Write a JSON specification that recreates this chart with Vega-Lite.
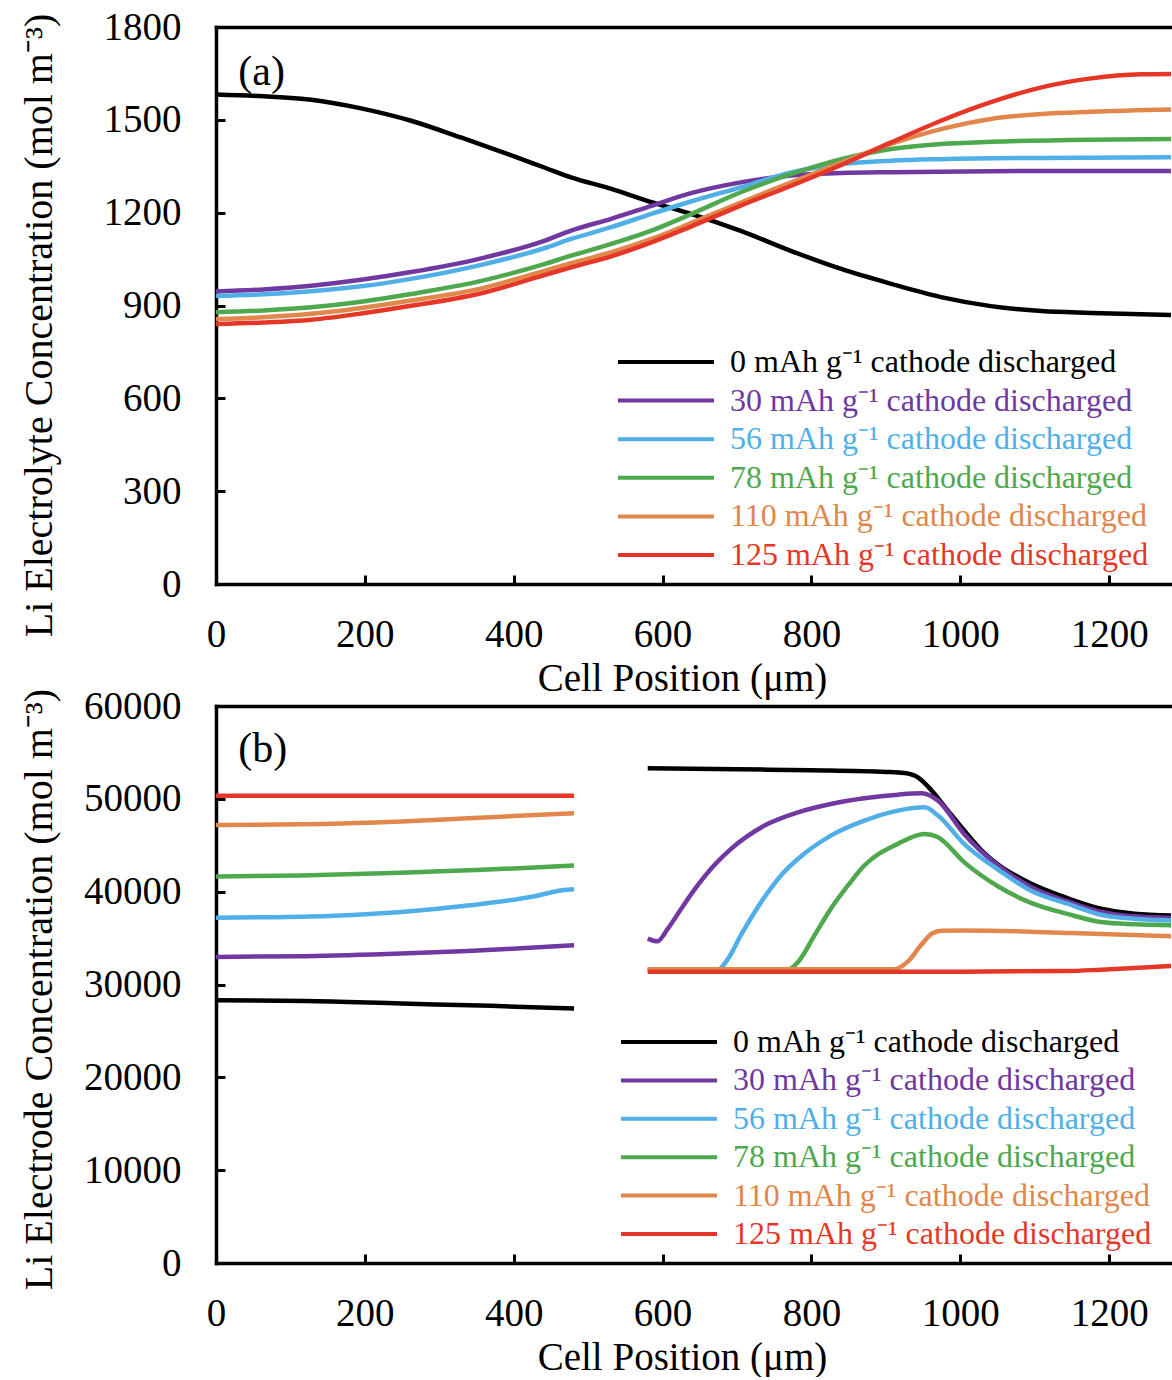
{
  "$schema": "https://vega.github.io/schema/vega-lite/v6.json",
  "background": "white",
  "padding": {"left": 18, "top": 8, "right": 0, "bottom": 0},
  "spacing": 122,
  "bounds": "flush",
  "config": {
    "font": "Liberation Serif",
    "view": {"stroke": null},
    "axis": {
      "grid": false, "domainColor": "black", "domainWidth": 3.5, "domainCap": "square",
      "tickColor": "black", "tickWidth": 3, "tickSize": -9,
      "labelFont": "Liberation Serif", "labelFontSize": 39, "labelColor": "black",
      "titleFont": "Liberation Serif", "titleFontWeight": "normal", "titleColor": "black",
      "labelFlush": false, "labelOverlap": false
    },
    "legend": {
      "orient": "none", "title": null,
      "symbolType": "stroke", "symbolSize": 9216, "symbolStrokeWidth": 4,
      "labelFont": "Liberation Serif", "labelFontSize": 32, "labelOffset": 14,
      "clipHeight": 30, "rowPadding": 6.6, "labelLimit": 700, "padding": 0
    }
  },
  "datasets": {
    "a": [
      {"s":"0","x":0,"y":1582},{"s":"0","x":64,"y":1576},{"s":"0","x":128,"y":1565},{"s":"0","x":195,"y":1537},{"s":"0","x":262,"y":1497},{"s":"0","x":329,"y":1443},{"s":"0","x":396,"y":1386},{"s":"0","x":441,"y":1346},{"s":"0","x":477,"y":1314},{"s":"0","x":531,"y":1277},{"s":"0","x":585,"y":1234},{"s":"0","x":638,"y":1196},{"s":"0","x":705,"y":1141},{"s":"0","x":773,"y":1076},{"s":"0","x":840,"y":1018},{"s":"0","x":907,"y":970},{"s":"0","x":974,"y":927},{"s":"0","x":1041,"y":898},{"s":"0","x":1109,"y":882},{"s":"0","x":1176,"y":876},{"s":"0","x":1283,"y":869},
      {"s":"30","x":0,"y":945},{"s":"30","x":64,"y":952},{"s":"30","x":128,"y":964},{"s":"30","x":195,"y":983},{"s":"30","x":262,"y":1008},{"s":"30","x":352,"y":1050},{"s":"30","x":441,"y":1109},{"s":"30","x":477,"y":1142},{"s":"30","x":531,"y":1180},{"s":"30","x":585,"y":1222},{"s":"30","x":638,"y":1263},{"s":"30","x":705,"y":1298},{"s":"30","x":773,"y":1320},{"s":"30","x":840,"y":1328},{"s":"30","x":907,"y":1331},{"s":"30","x":1041,"y":1334},{"s":"30","x":1176,"y":1335},{"s":"30","x":1283,"y":1335},
      {"s":"56","x":0,"y":931},{"s":"56","x":64,"y":936},{"s":"56","x":128,"y":946},{"s":"56","x":195,"y":962},{"s":"56","x":262,"y":986},{"s":"56","x":352,"y":1029},{"s":"56","x":441,"y":1085},{"s":"56","x":477,"y":1115},{"s":"56","x":531,"y":1153},{"s":"56","x":585,"y":1196},{"s":"56","x":638,"y":1236},{"s":"56","x":705,"y":1282},{"s":"56","x":773,"y":1330},{"s":"56","x":840,"y":1357},{"s":"56","x":907,"y":1368},{"s":"56","x":974,"y":1373},{"s":"56","x":1109,"y":1377},{"s":"56","x":1283,"y":1379},
      {"s":"78","x":0,"y":878},{"s":"78","x":64,"y":884},{"s":"78","x":128,"y":894},{"s":"78","x":195,"y":912},{"s":"78","x":262,"y":937},{"s":"78","x":352,"y":977},{"s":"78","x":441,"y":1034},{"s":"78","x":477,"y":1061},{"s":"78","x":531,"y":1099},{"s":"78","x":585,"y":1142},{"s":"78","x":638,"y":1195},{"s":"78","x":705,"y":1266},{"s":"78","x":773,"y":1325},{"s":"78","x":840,"y":1373},{"s":"78","x":907,"y":1406},{"s":"78","x":974,"y":1422},{"s":"78","x":1041,"y":1429},{"s":"78","x":1176,"y":1436},{"s":"78","x":1283,"y":1438},
      {"s":"110","x":0,"y":856},{"s":"110","x":64,"y":862},{"s":"110","x":128,"y":873},{"s":"110","x":195,"y":892},{"s":"110","x":262,"y":916},{"s":"110","x":352,"y":953},{"s":"110","x":441,"y":1012},{"s":"110","x":477,"y":1037},{"s":"110","x":531,"y":1072},{"s":"110","x":585,"y":1115},{"s":"110","x":638,"y":1166},{"s":"110","x":705,"y":1233},{"s":"110","x":773,"y":1298},{"s":"110","x":840,"y":1362},{"s":"110","x":907,"y":1422},{"s":"110","x":974,"y":1470},{"s":"110","x":1041,"y":1503},{"s":"110","x":1109,"y":1519},{"s":"110","x":1176,"y":1526},{"s":"110","x":1283,"y":1533},
      {"s":"125","x":0,"y":840},{"s":"125","x":64,"y":845},{"s":"125","x":128,"y":854},{"s":"125","x":195,"y":874},{"s":"125","x":262,"y":899},{"s":"125","x":352,"y":937},{"s":"125","x":441,"y":998},{"s":"125","x":477,"y":1023},{"s":"125","x":531,"y":1059},{"s":"125","x":585,"y":1104},{"s":"125","x":638,"y":1155},{"s":"125","x":705,"y":1223},{"s":"125","x":773,"y":1287},{"s":"125","x":840,"y":1354},{"s":"125","x":907,"y":1427},{"s":"125","x":974,"y":1497},{"s":"125","x":1041,"y":1557},{"s":"125","x":1109,"y":1605},{"s":"125","x":1176,"y":1634},{"s":"125","x":1243,"y":1647},{"s":"125","x":1283,"y":1648}
    ],
    "b": [
      {"s":"0","g":"L","x":0,"y":28300},{"s":"0","g":"L","x":120,"y":28230},{"s":"0","g":"L","x":249,"y":27950},{"s":"0","g":"L","x":370,"y":27700},{"s":"0","g":"L","x":481,"y":27410},
      {"s":"30","g":"L","x":0,"y":32970},{"s":"30","g":"L","x":120,"y":33050},{"s":"30","g":"L","x":249,"y":33330},{"s":"30","g":"L","x":338,"y":33600},{"s":"30","g":"L","x":384,"y":33790},{"s":"30","g":"L","x":481,"y":34220},
      {"s":"56","g":"L","x":0,"y":37200},{"s":"56","g":"L","x":80,"y":37250},{"s":"56","g":"L","x":159,"y":37400},{"s":"56","g":"L","x":249,"y":37800},{"s":"56","g":"L","x":338,"y":38500},{"s":"56","g":"L","x":428,"y":39500},{"s":"56","g":"L","x":465,"y":40150},{"s":"56","g":"L","x":481,"y":40250},
      {"s":"78","g":"L","x":0,"y":41640},{"s":"78","g":"L","x":114,"y":41750},{"s":"78","g":"L","x":249,"y":42030},{"s":"78","g":"L","x":338,"y":42300},{"s":"78","g":"L","x":428,"y":42600},{"s":"78","g":"L","x":481,"y":42820},
      {"s":"110","g":"L","x":0,"y":47190},{"s":"110","g":"L","x":114,"y":47250},{"s":"110","g":"L","x":249,"y":47550},{"s":"110","g":"L","x":338,"y":47900},{"s":"110","g":"L","x":428,"y":48250},{"s":"110","g":"L","x":481,"y":48450},
      {"s":"125","g":"L","x":0,"y":50340},{"s":"125","g":"L","x":240,"y":50340},{"s":"125","g":"L","x":481,"y":50340},
      {"s":"0","g":"R","x":580,"y":53290},{"s":"0","g":"R","x":700,"y":53180},{"s":"0","g":"R","x":800,"y":53080},{"s":"0","g":"R","x":900,"y":52900},{"s":"0","g":"R","x":925,"y":52780},{"s":"0","g":"R","x":943,"y":52320},{"s":"0","g":"R","x":962,"y":50850},{"s":"0","g":"R","x":984,"y":48650},{"s":"0","g":"R","x":1006,"y":46500},{"s":"0","g":"R","x":1029,"y":44400},{"s":"0","g":"R","x":1051,"y":42900},{"s":"0","g":"R","x":1097,"y":40800},{"s":"0","g":"R","x":1144,"y":39300},{"s":"0","g":"R","x":1189,"y":38160},{"s":"0","g":"R","x":1234,"y":37630},{"s":"0","g":"R","x":1283,"y":37440},
      {"s":"30","g":"R","x":580,"y":34940},{"s":"30","g":"R","x":593,"y":34650},{"s":"30","g":"R","x":607,"y":36010},{"s":"30","g":"R","x":625,"y":38160},{"s":"30","g":"R","x":647,"y":40670},{"s":"30","g":"R","x":669,"y":42820},{"s":"30","g":"R","x":692,"y":44610},{"s":"30","g":"R","x":737,"y":47120},{"s":"30","g":"R","x":782,"y":48550},{"s":"30","g":"R","x":826,"y":49450},{"s":"30","g":"R","x":871,"y":50060},{"s":"30","g":"R","x":916,"y":50450},{"s":"30","g":"R","x":948,"y":50600},{"s":"30","g":"R","x":970,"y":49810},{"s":"30","g":"R","x":1005,"y":46220},{"s":"30","g":"R","x":1052,"y":42730},{"s":"30","g":"R","x":1095,"y":40500},{"s":"30","g":"R","x":1144,"y":38950},{"s":"30","g":"R","x":1189,"y":37810},{"s":"30","g":"R","x":1234,"y":37340},{"s":"30","g":"R","x":1283,"y":37160},
      {"s":"56","g":"R","x":580,"y":31600},{"s":"56","g":"R","x":674,"y":31600},{"s":"56","g":"R","x":688,"y":32790},{"s":"56","g":"R","x":705,"y":35290},{"s":"56","g":"R","x":737,"y":39420},{"s":"56","g":"R","x":759,"y":41740},{"s":"56","g":"R","x":782,"y":43540},{"s":"56","g":"R","x":826,"y":46040},{"s":"56","g":"R","x":871,"y":47650},{"s":"56","g":"R","x":916,"y":48730},{"s":"56","g":"R","x":952,"y":49090},{"s":"56","g":"R","x":970,"y":48200},{"s":"56","g":"R","x":1005,"y":45150},{"s":"56","g":"R","x":1052,"y":42300},{"s":"56","g":"R","x":1095,"y":40100},{"s":"56","g":"R","x":1144,"y":38700},{"s":"56","g":"R","x":1189,"y":37520},{"s":"56","g":"R","x":1234,"y":37090},{"s":"56","g":"R","x":1283,"y":36900},
      {"s":"78","g":"R","x":580,"y":31600},{"s":"78","g":"R","x":768,"y":31600},{"s":"78","g":"R","x":782,"y":32430},{"s":"78","g":"R","x":804,"y":35290},{"s":"78","g":"R","x":826,"y":38160},{"s":"78","g":"R","x":849,"y":40670},{"s":"78","g":"R","x":871,"y":42820},{"s":"78","g":"R","x":916,"y":45150},{"s":"78","g":"R","x":952,"y":46220},{"s":"78","g":"R","x":970,"y":45870},{"s":"78","g":"R","x":1005,"y":43180},{"s":"78","g":"R","x":1052,"y":40500},{"s":"78","g":"R","x":1095,"y":38800},{"s":"78","g":"R","x":1144,"y":37600},{"s":"78","g":"R","x":1189,"y":36730},{"s":"78","g":"R","x":1234,"y":36480},{"s":"78","g":"R","x":1283,"y":36370},
      {"s":"110","g":"R","x":580,"y":31650},{"s":"110","g":"R","x":911,"y":31650},{"s":"110","g":"R","x":929,"y":32430},{"s":"110","g":"R","x":947,"y":34220},{"s":"110","g":"R","x":962,"y":35500},{"s":"110","g":"R","x":975,"y":35800},{"s":"110","g":"R","x":1005,"y":35830},{"s":"110","g":"R","x":1149,"y":35550},{"s":"110","g":"R","x":1283,"y":35190},
      {"s":"125","g":"R","x":580,"y":31380},{"s":"125","g":"R","x":1000,"y":31380},{"s":"125","g":"R","x":1144,"y":31450},{"s":"125","g":"R","x":1189,"y":31600},{"s":"125","g":"R","x":1240,"y":31800},{"s":"125","g":"R","x":1283,"y":32000}
    ]
  },
  "resolve": {"legend": {"color": "independent"}},
  "vconcat": [
    {
      "width": 955, "height": 557,
      "layer": [
        {
          "data": {"name": "a"},
          "mark": {"type": "line", "interpolate": "monotone", "strokeWidth": 4.5},
          "encoding": {
            "x": {"field": "x", "type": "quantitative", "scale": {"domain": [0, 1283], "nice": false, "zero": false},
                  "axis": {"values": [0, 200, 400, 600, 800, 1000, 1200], "format": "d", "title": "Cell Position (μm)", "labelPadding": 40, "titleFontSize": 39, "titleX": 466, "titleY": 75}},
            "y": {"field": "y", "type": "quantitative", "scale": {"domain": [0, 1800], "nice": false},
                  "axis": {"values": [0, 300, 600, 900, 1200, 1500, 1800], "format": "d", "title": "Li Electrolyte Concentration (mol m⁻³)", "labelPadding": 44, "titleFontSize": 40, "titleX": -165, "titleY": 298, "titleBaseline": "alphabetic"}},
            "color": {"field": "s", "type": "nominal",
                      "scale": {"domain": ["0", "30", "56", "78", "110", "125"], "range": ["#000000", "#7038A0", "#50AFE6", "#4EA84E", "#E1874B", "#E53728"]},
                      "legend": {"legendX": 400, "legendY": 320, "rowPadding": 6.6, "labelExpr": "datum.label + ' mAh g⁻¹ cathode discharged'",
                                 "encode": {"labels": {"update": {"fill": {"scale": "color", "field": "value"}}}}}}
          }
        },
        {
          "data": {"values": [{"t": "(a)"}]},
          "mark": {"type": "text", "fontSize": 42, "align": "left", "baseline": "middle", "font": "Liberation Serif", "color": "black"},
          "encoding": {
            "x": {"datum": 30, "type": "quantitative", "axis": {"orient": "top", "labels": false, "ticks": false, "title": null}},
            "y": {"datum": 1655, "type": "quantitative"},
            "text": {"field": "t"}
          }
        }
      ],
      "resolve": {"axis": {"x": "independent"}}
    },
    {
      "width": 955, "height": 557,
      "layer": [
        {
          "data": {"name": "b"},
          "mark": {"type": "line", "interpolate": "monotone", "strokeWidth": 4.5},
          "encoding": {
            "x": {"field": "x", "type": "quantitative", "scale": {"domain": [0, 1283], "nice": false, "zero": false},
                  "axis": {"values": [0, 200, 400, 600, 800, 1000, 1200], "format": "d", "title": "Cell Position (μm)", "labelPadding": 40, "titleFontSize": 39, "titleX": 466, "titleY": 75}},
            "y": {"field": "y", "type": "quantitative", "scale": {"domain": [0, 60000], "nice": false},
                  "axis": {"values": [0, 10000, 20000, 30000, 40000, 50000, 60000], "format": "d", "title": "Li Electrode Concentration (mol m⁻³)", "labelPadding": 44, "titleFontSize": 40, "titleX": -165, "titleY": 283, "titleBaseline": "alphabetic"}},
            "color": {"field": "s", "type": "nominal",
                      "scale": {"domain": ["0", "30", "56", "78", "110", "125"], "range": ["#000000", "#7038A0", "#50AFE6", "#4EA84E", "#E1874B", "#E53728"]},
                      "legend": {"legendX": 403, "legendY": 321, "rowPadding": 6.4, "labelExpr": "datum.label + ' mAh g⁻¹ cathode discharged'",
                                 "encode": {"labels": {"update": {"fill": {"scale": "color", "field": "value"}}}}}},
            "detail": {"field": "g"}
          }
        },
        {
          "data": {"values": [{"t": "(b)"}]},
          "mark": {"type": "text", "fontSize": 42, "align": "left", "baseline": "middle", "font": "Liberation Serif", "color": "black"},
          "encoding": {
            "x": {"datum": 30, "type": "quantitative", "axis": {"orient": "top", "labels": false, "ticks": false, "title": null}},
            "y": {"datum": 55400, "type": "quantitative"},
            "text": {"field": "t"}
          }
        }
      ],
      "resolve": {"axis": {"x": "independent"}}
    }
  ]
}
